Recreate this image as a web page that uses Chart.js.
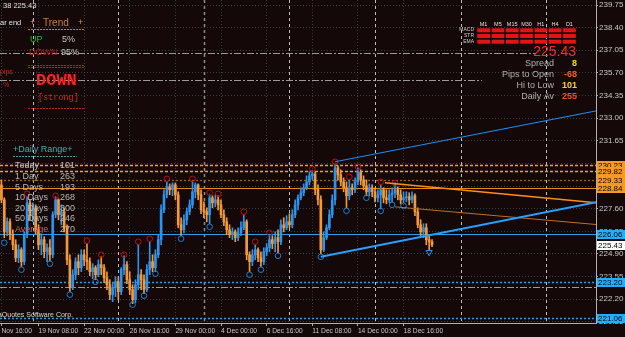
<!DOCTYPE html>
<html>
<head>
<meta charset="utf-8">
<script src="https://cdn.jsdelivr.net/npm/chart.js@4.4.1/dist/chart.umd.min.js"></script>
<style>
html, body { margin: 0; padding: 0; background: #140808; overflow: hidden; }
canvas { display: block; }
</style>
</head>
<body>
<canvas id="priceChart" width="625" height="337"></canvas>
<script>
// Chart data (H4 candles, bar index 0 = left edge)
const opens = [
    229.02,228.13,226.22,226.82,226.05,225.45,224.67,225.15,224.44,226.05,
    227.95,227.24,227.65,226.34,225.45,225.75,225.03,225.27,224.85,227.24,
    228.13,227.24,227.42,226.46,224.55,222.88,223.66,224.44,224.08,224.85,
    224.55,224.44,223.84,224.08,223.66,224.26,224.08,223.48,223.06,222.47,
    222.88,223.24,222.65,223.96,224.26,223.36,222.77,222.17,223.06,223.66,
    223.36,222.77,223.96,224.44,224.08,224.85,225.75,227.53,228.43,228.90,
    228.73,229.02,228.43,226.64,226.34,226.94,227.42,227.83,228.61,229.02,
    228.43,227.53,227.42,227.24,228.25,227.95,228.13,227.83,227.24,226.82,
    226.34,226.05,226.22,225.87,226.16,226.46,226.82,224.85,224.44,224.85,
    225.15,224.67,224.44,225.03,225.27,225.75,225.51,225.87,225.63,226.64,
    226.46,226.82,226.64,227.24,227.83,228.25,228.55,228.85,229.20,229.56,
    229.68,228.73,228.13,225.15,225.87,226.46,227.24,228.13,230.04,229.62,
    229.20,228.85,228.37,228.85,228.73,229.20,229.80,229.32,228.96,228.61,
    228.85,228.61,228.25,228.43,228.73,228.25,228.13,228.43,228.55,228.73,
    228.43,228.13,228.25,228.31,228.13,228.37,227.42,226.64,226.22,226.46,
    225.75,225.63
];
const highs = [
    229.32,228.25,227.06,227.00,226.34,225.75,225.45,225.27,226.22,228.31,
    228.13,227.95,227.83,226.64,226.05,225.93,225.51,225.75,227.42,228.31,
    228.19,227.83,227.65,226.64,224.85,223.96,224.67,224.85,225.15,225.15,
    225.51,224.67,224.32,224.20,224.55,224.73,224.26,223.84,223.36,223.18,
    223.54,223.48,224.08,224.79,224.44,223.84,223.06,223.36,225.45,223.96,
    223.66,224.26,225.63,224.85,225.15,226.05,227.83,228.73,229.20,229.08,
    229.14,229.14,228.61,227.06,227.24,227.65,228.13,229.20,229.14,229.08,
    228.73,228.01,227.65,228.43,228.37,228.43,228.37,228.13,227.53,227.06,
    226.64,226.46,226.34,226.46,226.82,227.24,226.94,225.03,225.15,225.45,
    225.27,225.03,225.27,225.51,225.99,225.99,226.22,226.34,226.94,227.06,
    227.18,227.30,227.53,228.13,228.43,228.85,229.08,229.56,229.80,229.86,
    229.80,229.02,228.37,226.22,226.64,227.53,228.43,230.28,230.16,229.92,
    229.44,229.20,229.32,229.08,229.44,230.04,229.92,229.56,229.32,229.08,
    229.02,228.85,228.73,229.02,228.85,228.73,228.73,228.85,229.14,228.90,
    228.73,228.61,228.61,228.55,228.61,228.49,227.65,226.94,226.70,226.70,
    226.05,225.75
];
const lows = [
    227.95,225.87,225.99,225.75,225.15,224.44,224.38,224.14,224.26,225.87,
    226.94,226.82,226.10,225.15,224.85,224.67,224.44,224.49,224.67,227.06,
    226.94,226.64,226.22,224.26,222.65,222.77,223.36,223.66,223.84,224.20,
    223.96,223.60,223.42,223.36,223.54,223.66,223.18,222.77,222.17,222.05,
    222.35,222.17,222.47,223.66,223.12,222.47,221.93,221.99,222.77,222.77,
    222.53,222.65,223.66,223.84,223.84,224.67,225.45,227.36,228.25,228.43,
    228.37,228.13,226.46,225.99,226.16,226.64,227.24,227.65,228.25,228.13,
    227.30,227.06,226.82,226.70,227.65,227.71,227.53,227.06,226.58,226.05,
    225.87,225.75,225.63,225.69,225.99,226.34,224.55,223.84,224.20,224.55,
    224.44,224.14,224.26,224.79,225.03,225.21,225.03,224.97,225.45,226.22,
    226.34,226.46,226.46,227.06,227.53,228.13,228.37,228.73,229.02,229.32,
    228.43,227.83,224.91,225.03,225.75,226.34,227.06,227.83,229.32,228.96,
    228.61,227.65,228.13,228.43,228.55,229.02,229.02,228.73,228.37,228.37,
    228.31,228.01,228.01,227.59,227.95,227.89,227.95,228.01,228.25,228.13,
    227.89,227.95,228.01,227.83,227.95,227.18,226.46,225.99,225.87,225.45,
    225.15,225.33
];
const closes = [
    228.13,226.22,226.82,226.05,225.45,224.67,225.15,224.44,226.05,227.95,
    227.24,227.65,226.34,225.45,225.75,225.03,225.27,224.85,227.24,228.13,
    227.24,227.42,226.46,224.55,222.88,223.66,224.44,224.08,224.85,224.55,
    224.44,223.84,224.08,223.66,224.26,224.08,223.48,223.06,222.47,222.88,
    223.24,222.65,223.96,224.26,223.36,222.77,222.17,223.06,223.66,223.36,
    222.77,223.96,224.44,224.08,224.85,225.75,227.53,228.43,228.90,228.73,
    229.02,228.43,226.64,226.34,226.94,227.42,227.83,228.61,229.02,228.43,
    227.53,227.42,227.24,228.25,227.95,228.13,227.83,227.24,226.82,226.34,
    226.05,226.22,225.87,226.16,226.46,226.82,224.85,224.44,224.85,225.15,
    224.67,224.44,225.03,225.27,225.75,225.51,225.87,225.63,226.64,226.46,
    226.82,226.64,227.24,227.83,228.25,228.55,228.85,229.20,229.56,229.68,
    228.73,228.13,225.15,225.87,226.46,227.24,228.13,230.04,229.62,229.20,
    228.85,228.37,228.85,228.73,229.20,229.80,229.32,228.96,228.61,228.85,
    228.61,228.25,228.43,228.73,228.25,228.13,228.43,228.55,228.73,228.43,
    228.13,228.25,228.31,228.13,228.37,227.42,226.64,226.22,226.46,225.75,
    225.63,225.43
];

// time axis: bar index of each label and its text
const timeTicks = [0, 13, 29, 45, 61, 77, 93, 109, 125, 141];
const timeLabels = ['Nov 16:00', '19 Nov 08:00', '22 Nov 00:00', '26 Nov 16:00', '29 Nov 00:00',
    '4 Dec 00:00', '6 Dec 16:00', '11 Dec 08:00', '14 Dec 00:00', '18 Dec 16:00'];
const priceTicks = [239.75, 238.40, 237.05, 235.70, 234.35, 233.00, 231.65, 230.30, 228.95,
    227.60, 226.25, 224.90, 223.55, 222.20, 220.85];

// fractals
const upFractalBars = [9, 19, 30, 35, 43, 48, 52, 58, 67, 73, 76, 85, 89, 94, 109, 117, 122, 125, 133, 138];
const upFractalPrices = [228.49, 228.37, 225.69, 224.85, 224.85, 225.63, 225.81, 229.38, 229.38, 228.55,
    228.49, 227.42, 225.63, 226.16, 229.98, 230.40, 229.50, 230.10, 229.20, 229.14];
const downFractalBars = [1, 7, 17, 24, 33, 46, 50, 54, 63, 73, 87, 91, 97, 112, 121, 128, 133, 137, 141];
const downFractalPrices = [225.57, 223.96, 224.32, 222.47, 223.24, 221.87, 222.41, 223.72, 225.81, 226.52,
    223.66, 223.96, 224.79, 224.73, 227.47, 228.25, 227.47, 227.83, 227.77];
const arrowBars = [150];
const arrowPrices = [225.00];

// trend lines
const resistBars = [117, 209];
const resistPrices = [230.40, 233.45];
const supportBars = [112, 209];
const supportPrices = [224.73, 228.00];
const channelBars = [134.5, 209];
const channelPrices = [229.14, 227.95];
const channel2Bars = [138, 209];
const channel2Prices = [227.71, 226.65];

// horizontal levels, pivots, week separators
const levelPrices = [230.23, 229.82, 229.33, 228.84, 226.06, 223.20, 221.06];
const pivotPrices = [236.89, 235.28, 222.94];
const weekBars = [11, 41, 71, 101, 131, 161, 191];
const lastPrice = 225.43;

// info panels
const rangeNames = ['Today', '1 Day', '5 Days', '10 Days', '20 Days', '50 Days', 'Average'];
const rangeValues = [101, 263, 193, 268, 300, 246, 270];
const timeframes = ['M1', 'M5', 'M15', 'M30', 'H1', 'H4', 'D1'];
const trendUp = 5;
const trendDown = 95;
const infoNames = ['Spread', 'Pips to Open', 'Hi to Low', 'Daily Av'];
const infoValues = ['8', '-68', '101', '255'];

const chartFont = '"Liberation Sans", Arial, sans-serif';
const BLUE = '#2e93ee';
const ORANGE = '#f39a36';

// styles for the levels above, in the same order
const levelStyles = [
    { color: '#ff9c1c', width: 1.3, dash: [3, 2], box: '#f79a1f' },
    { color: '#ff9c1c', width: 1.3, dash: [3, 2], box: '#f79a1f' },
    { color: '#9a6020', width: 1.3, dash: [2, 2], box: '#f79a1f' },
    { color: '#e88a10', width: 1, dash: [], box: '#f79a1f' },
    { color: '#2a9ef0', width: 1, dash: [], box: '#1eb0ff' },
    { color: '#20a0e8', width: 1.5, dash: [2, 2], box: '#1eb0ff' },
    { color: '#20a0e8', width: 1.5, dash: [2, 2], box: '#1eb0ff' }
];
const pivotEnds = [187.5, 168.5, 209];

function line(ctx, x1, y1, x2, y2, color, width, dash) {
    ctx.save();
    ctx.strokeStyle = color;
    ctx.lineWidth = width;
    ctx.setLineDash(dash || []);
    ctx.beginPath();
    ctx.moveTo(x1, y1);
    ctx.lineTo(x2, y2);
    ctx.stroke();
    ctx.restore();
}

function text(ctx, s, x, y, color, font, align) {
    ctx.fillStyle = color;
    ctx.font = font;
    ctx.textAlign = align || 'left';
    ctx.textBaseline = 'middle';
    ctx.fillText(s, x, y);
}

const overlayPlugin = {
    id: 'overlay',
    beforeDatasetsDraw(chart) {
        const { ctx, chartArea: a, scales: { x, y } } = chart;
        ctx.save();
        ctx.beginPath();
        ctx.rect(a.left, a.top, a.right - a.left, a.bottom - a.top);
        ctx.clip();
        weekBars.forEach(b => {
            const px = Math.round(x.getPixelForValue(b)) + 0.5;
            line(ctx, px, a.top, px, a.bottom, b === 71 ? '#8a8a8a' : '#bdbdbd', b === 71 ? 1.5 : 1, [3, 3]);
        });
        pivotPrices.forEach((p, i) => {
            const py = Math.round(y.getPixelForValue(p)) + 0.5;
            line(ctx, a.left, py, x.getPixelForValue(pivotEnds[i]), py, '#9a9a9a', 1, [7, 2, 2, 2]);
        });
        levelPrices.forEach((p, i) => {
            const s = levelStyles[i];
            const py = Math.round(y.getPixelForValue(p)) + 0.5;
            line(ctx, a.left, py, a.right, py, s.color, s.width, s.dash);
        });
        ctx.restore();
    },
    afterDraw(chart) {
        const { ctx, chartArea: a, scales: { y } } = chart;
        const small = '7.5px ' + chartFont;
        const mid = '9px ' + chartFont;
        ctx.save();

        // price boxes on the axis
        const box = (p, fill) => {
            const py = Math.round(y.getPixelForValue(p));
            ctx.fillStyle = fill;
            ctx.fillRect(a.right + 1, py - 4, 29, 9);
            text(ctx, p.toFixed(2), a.right + 2, py + 0.5, '#000000', '8px ' + chartFont);
        };
        levelPrices.forEach((p, i) => box(p, levelStyles[i].box));
        box(lastPrice, '#ffffff');

        // top-left header
        text(ctx, '38 225.43', 3, 6, '#e0e0e0', small);
        text(ctx, 'ar end', 0, 23, '#e0e0e0', small);

        // trend panel
        text(ctx, '+', 30, 23, '#e09040', mid);
        text(ctx, 'Trend', 43, 23, '#c8823c', '10px ' + chartFont);
        text(ctx, '+', 78, 23, '#e09040', mid);
        line(ctx, 28, 29.5, 84, 29.5, '#d08030', 1, [2, 1]);
        text(ctx, 'UP', 30, 40, '#10c010', mid);
        text(ctx, trendUp + '%', 62, 40, '#c8c8c8', mid);
        text(ctx, 'DOWN', 29, 53, '#b81818', mid);
        text(ctx, trendDown + '%', 61, 53, '#c8c8c8', mid);
        line(ctx, 28, 65.5, 84, 65.5, '#c01818', 1, [2, 1]);
        line(ctx, 28, 67.5, 84, 67.5, '#c01818', 1, [2, 1]);
        text(ctx, 'DOWN', 36, 81, '#ff2020', 'bold 17px "Liberation Mono", monospace');
        text(ctx, '[strong]', 38, 98, '#e02020', '8.5px "Liberation Mono", monospace');
        line(ctx, 28, 108.5, 84, 108.5, '#c01818', 1, [2, 1]);
        text(ctx, 'pips', 0, 72, '#d02020', '7px ' + chartFont);
        text(ctx, '%', 3, 85, '#d02020', '7px ' + chartFont);

        // daily range panel
        text(ctx, '+Daily Range+', 13, 150, '#40b0b0', mid);
        line(ctx, 13, 156.5, 77, 156.5, '#40a0a0', 1, [2, 1]);
        rangeNames.forEach((n, i) => {
            const ry = 166 + i * 10.6;
            text(ctx, n, 15, ry, i === rangeNames.length - 1 ? '#cc6060' : '#b8b8b8', mid);
            text(ctx, String(rangeValues[i]), 60, ry, '#b8b8b8', mid);
        });

        // multi-timeframe panel
        timeframes.forEach((tf, i) => {
            const cx = 483.6 + i * 14.3;
            text(ctx, tf, cx, 24, '#e0e0e0', '5.5px ' + chartFont, 'center');
            ctx.fillStyle = '#e41414';
            [28.3, 34, 39.7].forEach(ry => ctx.fillRect(cx - 6.3, ry, 12.7, 4));
        });
        ['MACD', 'STR', 'EMA'].forEach((n, i) => text(ctx, n, 474, 30 + i * 6, '#d0d0d0', '5px ' + chartFont, 'right'));
        text(ctx, lastPrice.toFixed(2), 576, 52, '#ff2a2a', '14px ' + chartFont, 'right');
        const infoColors = ['#ffd700', '#ff5a1e', '#ffd700', '#ff4a1a'];
        infoNames.forEach((n, i) => {
            const ry = 64 + i * 11;
            text(ctx, n, 554, ry, '#b0b0b0', mid, 'right');
            text(ctx, infoValues[i], 577, ry, infoColors[i], 'bold 9px ' + chartFont, 'right');
        });

        text(ctx, 'MetaQuotes Software Corp.', 73, 315, '#d8d8d8', '7px ' + chartFont, 'right');
        ctx.restore();
    }
};

const candleColor = ctx => closes[ctx.dataIndex] >= opens[ctx.dataIndex] ? BLUE : ORANGE;
const points = (bars, prices) => bars.map((b, i) => ({ x: b, y: prices[i] }));

const ctx = document.getElementById('priceChart').getContext('2d');
new Chart(ctx, {
    type: 'bar',
    data: {
        datasets: [{
            label: 'wicks',
            data: closes.map((c, i) => ({ x: i, y: [lows[i], highs[i]] })),
            backgroundColor: candleColor,
            grouped: false,
            barPercentage: 1,
            categoryPercentage: 1,
            maxBarThickness: 1,
            order: 5
        }, {
            label: 'bodies',
            data: closes.map((c, i) => ({ x: i, y: [opens[i], c] })),
            backgroundColor: candleColor,
            grouped: false,
            barPercentage: 1,
            categoryPercentage: 1,
            maxBarThickness: 2,
            minBarLength: 1,
            order: 4
        }, {
            type: 'line',
            label: 'up fractals',
            data: points(upFractalBars, upFractalPrices),
            showLine: false,
            pointRadius: 2.8,
            pointBorderWidth: 1,
            pointBorderColor: '#c01010',
            pointBackgroundColor: 'rgba(0,0,0,0)',
            order: 2
        }, {
            type: 'line',
            label: 'down fractals',
            data: points(downFractalBars, downFractalPrices),
            showLine: false,
            pointRadius: 2.8,
            pointBorderWidth: 1,
            pointBorderColor: '#1e80d0',
            pointBackgroundColor: 'rgba(0,0,0,0)',
            order: 2
        }, {
            type: 'line',
            label: 'arrow',
            data: points(arrowBars, arrowPrices),
            showLine: false,
            pointStyle: 'triangle',
            rotation: 180,
            pointRadius: 3.5,
            pointBorderWidth: 1,
            pointBorderColor: '#2e93ee',
            pointBackgroundColor: 'rgba(0,0,0,0)',
            order: 2
        }, {
            type: 'line',
            label: 'resistance',
            data: points(resistBars, resistPrices),
            borderColor: '#1e90ff',
            borderWidth: 1,
            pointRadius: 0,
            order: 1
        }, {
            type: 'line',
            label: 'support',
            data: points(supportBars, supportPrices),
            borderColor: '#28a0ff',
            borderWidth: 2,
            pointRadius: 0,
            order: 1
        }, {
            type: 'line',
            label: 'channel',
            data: points(channelBars, channelPrices),
            borderColor: '#ff9010',
            borderWidth: 1.5,
            pointRadius: 0,
            order: 1
        }, {
            type: 'line',
            label: 'channel 2',
            data: points(channel2Bars, channel2Prices),
            borderColor: '#c07020',
            borderWidth: 1,
            pointRadius: 0,
            order: 1
        }]
    },
    options: {
        responsive: false,
        animation: false,
        devicePixelRatio: 1,
        layout: { padding: 0, autoPadding: false },
        plugins: { legend: { display: false }, tooltip: { enabled: false } },
        scales: {
            x: {
                type: 'linear',
                position: 'bottom',
                min: -0.5,
                max: 208.5,
                offset: false,
                afterBuildTicks: scale => { scale.ticks = timeTicks.map(v => ({ value: v })); },
                afterFit: scale => { scale.height = 14; scale.paddingLeft = 0; scale.paddingRight = 0; },
                ticks: {
                    autoSkip: false,
                    maxRotation: 0,
                    align: 'start',
                    padding: 1,
                    color: '#c8c8c8',
                    font: { family: chartFont, size: 6.7 },
                    callback: v => {
                        const k = timeTicks.indexOf(v);
                        return k >= 0 ? timeLabels[k] : null;
                    }
                },
                grid: { offset: false, color: 'rgba(70,100,100,0.6)', tickColor: '#b0b0b0', tickLength: 3 },
                border: { display: true, color: '#b0b0b0', width: 1, dash: [1, 2] }
            },
            y: {
                type: 'linear',
                position: 'right',
                min: 220.78,
                max: 240.05,
                beginAtZero: false,
                afterBuildTicks: scale => { scale.ticks = priceTicks.map(v => ({ value: v })); },
                afterFit: scale => { scale.width = 29; scale.paddingTop = 0; scale.paddingBottom = 0; },
                ticks: {
                    padding: 1,
                    color: '#c8c8c8',
                    font: { family: chartFont, size: 8 },
                    callback: v => v.toFixed(2)
                },
                grid: { color: 'rgba(70,100,100,0.6)', tickColor: '#b0b0b0', tickLength: 2 },
                border: { display: true, color: '#b0b0b0', width: 1, dash: [1, 2] }
            }
        }
    },
    plugins: [overlayPlugin]
});
</script>
</body>
</html>
